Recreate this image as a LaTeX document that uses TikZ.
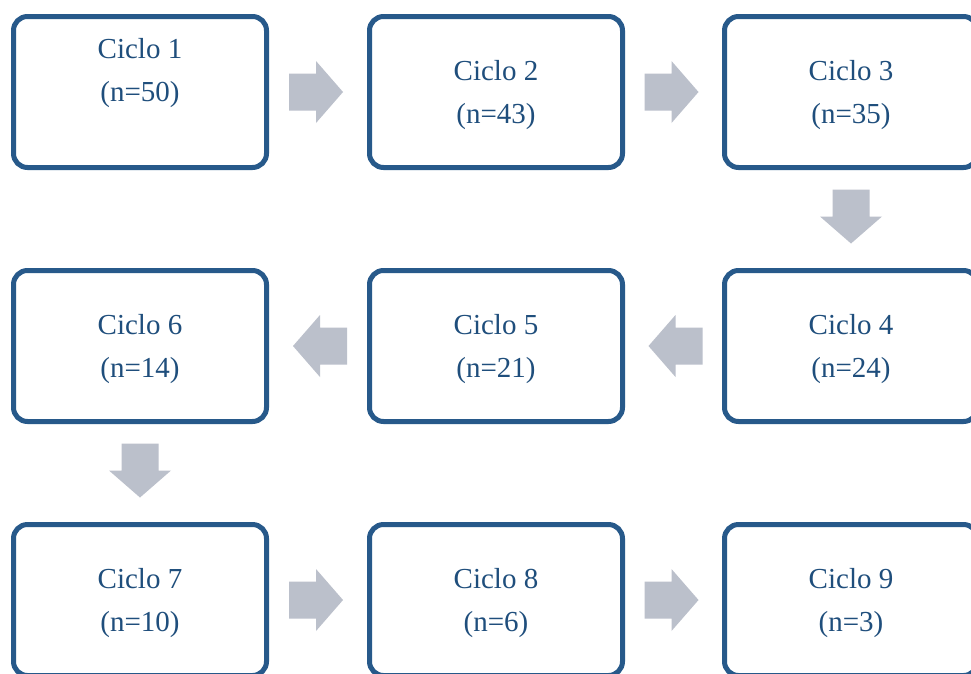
\documentclass[tikz,border=0pt]{standalone}
\usepackage{fontspec}
\setmainfont{Liberation Serif}
\usetikzlibrary{calc}
\definecolor{boxblue}{HTML}{27598A}
\definecolor{txtblue}{HTML}{1F4E7C}
\definecolor{arrgray}{HTML}{BBC0CB}
\tikzset{
  cyclebox/.style={draw=boxblue, line width=5pt, rounded corners=14pt, minimum width=253pt, minimum height=151pt, inner sep=0pt, fill=white},
  cycletext/.style={text=txtblue, font=\fontsize{29pt}{43pt}\selectfont, align=center, inner sep=0pt},
  blockarrow/.style={fill=arrgray, draw=none}
}
\begin{document}
\begin{tikzpicture}[x=1pt,y=-1pt]
\useasboundingbox (0,0) rectangle (971,673);
\clip (0,0) rectangle (971,673);
\fill[white] (0,0) rectangle (971,673);
% boxes
\node[cyclebox] (b1) at (140,92) {};
\node[cyclebox] (b2) at (496,92) {};
\node[cyclebox] (b3) at (851,92) {};
\node[cyclebox] (b4) at (851,346) {};
\node[cyclebox] (b5) at (496,346) {};
\node[cyclebox] (b6) at (140,346) {};
\node[cyclebox] (b7) at (140,600) {};
\node[cyclebox] (b8) at (496,600) {};
\node[cyclebox] (b9) at (851,600) {};
% texts
\node[cycletext] (t1) at ($(b1.center)+(0,-19)$) {Ciclo 1\\(n=50)};
\node[cycletext] (t2) at ($(b2.center)+(0,3)$) {Ciclo 2\\(n=43)};
\node[cycletext] (t3) at ($(b3.center)+(0,3)$) {Ciclo 3\\(n=35)};
\node[cycletext] (t4) at ($(b4.center)+(0,3)$) {Ciclo 4\\(n=24)};
\node[cycletext] (t5) at ($(b5.center)+(0,3)$) {Ciclo 5\\(n=21)};
\node[cycletext] (t6) at ($(b6.center)+(0,3)$) {Ciclo 6\\(n=14)};
\node[cycletext] (t7) at ($(b7.center)+(0,3)$) {Ciclo 7\\(n=10)};
\node[cycletext] (t8) at ($(b8.center)+(0,3)$) {Ciclo 8\\(n=6)};
\node[cycletext] (t9) at ($(b9.center)+(0,3)$) {Ciclo 9\\(n=3)};
% block arrows: right
\coordinate (a12) at ($(b1.east)!0.5!(b2.west)+(-2,0)$);
\coordinate (a23) at ($(b2.east)!0.5!(b3.west)+(-2,0)$);
\coordinate (a78) at ($(b7.east)!0.5!(b8.west)+(-2,0)$);
\coordinate (a89) at ($(b8.east)!0.5!(b9.west)+(-2,0)$);
\foreach \c in {a12,a23,a78,a89}{
  \fill[blockarrow] (\c) ++(-27,-18.5) -- ++(27,0) -- ++(0,-12.5) -- ++(27,31) -- ++(-27,31) -- ++(0,-12.5) -- ++(-27,0) -- cycle;
}
% left
\coordinate (a45) at ($(b4.west)!0.5!(b5.east)+(2,0)$);
\coordinate (a56) at ($(b5.west)!0.5!(b6.east)+(2,0)$);
\foreach \c in {a45,a56}{
  \fill[blockarrow] (\c) ++(27,-18.5) -- ++(-27,0) -- ++(0,-12.5) -- ++(-27,31) -- ++(27,31) -- ++(0,-12.5) -- ++(27,0) -- cycle;
}
% down
\coordinate (a34) at ($(b3.south)!0.5!(b4.north)+(0,-2.5)$);
\coordinate (a67) at ($(b6.south)!0.5!(b7.north)+(0,-2.5)$);
\foreach \c in {a34,a67}{
  \fill[blockarrow] (\c) ++(-18.5,-27) -- ++(0,27) -- ++(-12.5,0) -- ++(31,27) -- ++(31,-27) -- ++(-12.5,0) -- ++(0,-27) -- cycle;
}
\end{tikzpicture}
\end{document}
